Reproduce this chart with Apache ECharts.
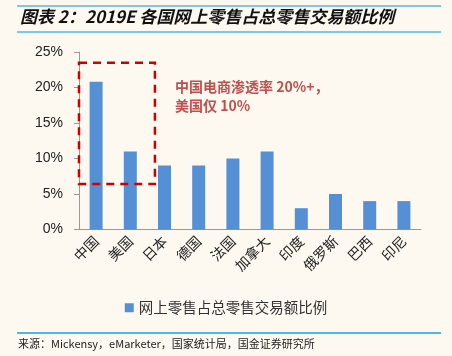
<!DOCTYPE html>
<html><head><meta charset="utf-8">
<script src="https://cdn.jsdelivr.net/npm/echarts@6/dist/echarts.min.js"></script>
<style>html,body{margin:0;padding:0;background:#fdf9f0;}#c{width:452px;height:356px;}</style>
</head><body><div id="c"></div>
<script>
var categories = ['中国','美国','日本','德国','法国','加拿大','印度','俄罗斯','巴西','印尼'];
var values = [20.8, 11, 9, 9, 10, 11, 3, 5, 4, 4];
var yTicks = [0, 5, 10, 15, 20, 25];
var seriesName = '网上零售占总零售交易额比例';
var boxRange = [6.4, 23.5];

var chart = echarts.init(document.getElementById('c'), null, {renderer:'canvas'});
var cjk = '"Noto Sans CJK SC", "Noto Sans", sans-serif';
chart.setOption({
  backgroundColor: '#fdf9f0',
  animation: false,
  grid: {left: 79, right: 31, top: 52, bottom: 126.5, containLabel: false},
  legend: {
    data: [seriesName], bottom: 36, left: 'center', itemWidth: 9, itemHeight: 9, itemGap: 5,
    icon: 'rect', textStyle: {fontFamily: cjk, fontSize: 14.5, color: '#333'}
  },
  xAxis: {
    type: 'category', data: categories,
    axisLine: {lineStyle: {color: '#999'}},
    axisTick: {lineStyle: {color: '#999'}},
    axisLabel: {rotate: 45, fontFamily: cjk, fontSize: 14, color: '#222', margin: 9, interval: 0}
  },
  yAxis: {
    type: 'value', min: yTicks[0], max: yTicks[yTicks.length-1], interval: 5,
    axisLine: {show: true, lineStyle: {color: '#999'}},
    axisTick: {show: true, lineStyle: {color: '#999'}},
    splitLine: {show: false},
    axisLabel: {formatter: '{value}%', fontFamily: '"Liberation Sans", Arial, sans-serif', fontSize: 14, color: '#222', margin: 16}
  },
  series: [{
    name: seriesName, type: 'bar', data: values, barWidth: '38%',
    itemStyle: {color: '#5590d6'}
  }]
});

var y0 = chart.convertToPixel({yAxisIndex:0}, boxRange[1]);
var y1 = chart.convertToPixel({yAxisIndex:0}, boxRange[0]);
var c0 = chart.convertToPixel({xAxisIndex:0}, categories[0]);
var c1 = chart.convertToPixel({xAxisIndex:0}, categories[1]);
var band = c1 - c0;
var xL = c0 - band/2;
var xR = c1 + band*0.72;

chart.setOption({
  graphic: [
    {type:'line', shape:{x1:17,y1:6,x2:441,y2:6}, style:{stroke:'#4bb8e8', lineWidth:1.5}},
    {type:'line', shape:{x1:17,y1:32,x2:441,y2:32}, style:{stroke:'#4bb8e8', lineWidth:1.5}},
    {type:'text', left: 20, top: 8, style:{text:'图表 2：2019E 各国网上零售占总零售交易额比例', font:'italic bold 17px "Noto Sans CJK SC", sans-serif', fill:'#111'}},
    {type:'rect', shape:{x:xL, y:y0, width:xR-xL, height:y1-y0}, style:{fill:'none', stroke:'#cc0000', lineWidth:2.5, lineDash:[8,6]}, z: 10},
    {type:'text', left: 175, top: 77, style:{text:'中国电商渗透率 20%+，\n美国仅 10%', font:'bold 14px "Noto Sans CJK SC", sans-serif', fill:'#c0504d', lineHeight: 19}},
    {type:'line', shape:{x1:17,y1:333,x2:441,y2:333}, style:{stroke:'#4bb8e8', lineWidth:2}},
    {type:'text', left: 18, top: 338, style:{text:'来源：Mickensy，eMarketer，国家统计局，国金证券研究所', font:'11px "Noto Sans CJK SC", sans-serif', fill:'#222'}}
  ]
});
</script></body></html>
